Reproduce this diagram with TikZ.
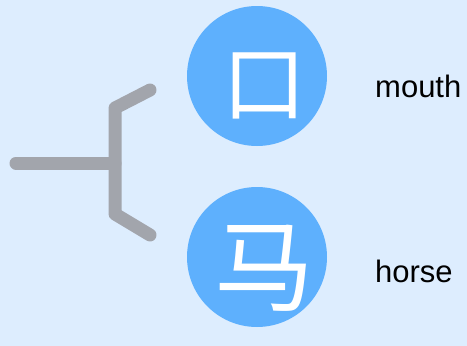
\documentclass[tikz,border=0pt]{standalone}
\usepackage{fontspec}
\setmainfont{Liberation Sans}
\newfontfamily\cjk{Noto Sans CJK SC}
\definecolor{bg}{RGB}{221,237,254}
\definecolor{disc}{RGB}{94,176,253}
\definecolor{bracket}{RGB}{162,165,172}
\begin{document}
\begin{tikzpicture}[x=1pt,y=-1pt,
  discnode/.style={circle,fill=disc,minimum size=140pt,inner sep=0pt},
  glyph/.style={text=white,inner sep=0pt},
  word/.style={anchor=base west,inner sep=0pt,font=\fontsize{31}{31}\selectfont,text=black},
  brk/.style={draw=bracket,line width=13pt,line cap=round,line join=round}]
\fill[bg] (0,0) rectangle (467,346);
\useasboundingbox (0,0) rectangle (467,346);
\node[discnode] (c1) at (257,76) {};
\node[discnode] (c2) at (257,257) {};
\node[glyph,font=\cjk\fontsize{84}{84}\selectfont] (g1) at (264,86) {口};
\node[glyph,font=\cjk\fontsize{100}{100}\selectfont] (g2) at (264,268) {马};
\node[word] (w1) at (375,97) {mouth};
\node[word] (w2) at (375,282) {horse};
\coordinate (stem) at (16,163);
\coordinate (mid) at (115,163);
\coordinate (top) at (115,108);
\coordinate (bot) at (115,214);
\coordinate (tend) at (150,90);
\coordinate (bend) at (150,235);
\draw[brk] (tend) -- (top) -- (bot) -- (bend);
\draw[brk] (stem) -- (mid);
\end{tikzpicture}
\end{document}
